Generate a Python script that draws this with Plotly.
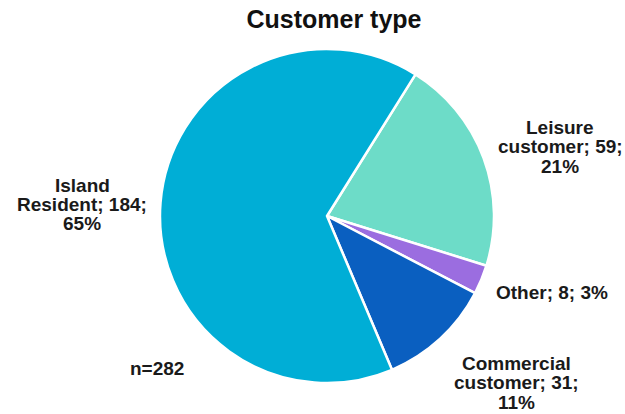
import plotly.graph_objects as go

categories = ["Leisure customer", "Other", "Commercial customer", "Island Resident"]
values = [59, 8, 31, 184]
label_lines = [["Leisure", "customer; {v};", "{p}%"], ["Other; {v}; {p}%"],
               ["Commercial", "customer; {v};", "{p}%"], ["Island", "Resident; {v};", "{p}%"]]
colors = ["#6DDCC8", "#9B6DE0", "#0A5FC0", "#00AED6"]
label_pos = [(560, 127), (552, 292), (516, 363), (82, 185)]  # pixel centers of first line

W, H = 625, 414
LINE = 19.5
total = sum(values)

fig = go.Figure(go.Pie(
    labels=categories, values=values, sort=False, direction="clockwise",
    rotation=32, textinfo="none", hoverinfo="label+value+percent",
    marker=dict(colors=colors, line=dict(color="white", width=2.5)),
    domain=dict(x=[160/W, 494/W], y=[(H-384)/H, (H-48)/H]),
    showlegend=False,
))

font = dict(family="Liberation Sans", size=19, color="#1a1a1a")
annotations = []
for c, v, lines, (px, py) in zip(categories, values, label_lines, label_pos):
    p = round(100 * v / total)
    for i, ln in enumerate(lines):
        annotations.append(dict(
            text="<b>" + ln.format(v=v, p=p) + "</b>", x=px/W, y=1 - (py + i*LINE)/H,
            xref="paper", yref="paper", showarrow=False,
            xanchor="center", yanchor="middle", font=font,
        ))
annotations.append(dict(
    text=f"<b>n={total}</b>", x=157/W, y=1 - 368/H, xref="paper", yref="paper",
    showarrow=False, xanchor="center", yanchor="middle", font=font,
))

fig.update_layout(
    width=W, height=H, margin=dict(l=0, r=0, t=0, b=0),
    paper_bgcolor="white", plot_bgcolor="white",
    title=dict(text="<b>Customer type</b>", x=334/W, xanchor="center", y=1 - 19/H, yanchor="middle",
               font=dict(family="Liberation Sans", size=25, color="#111111")),
    annotations=annotations,
)

fig.write_html("out.html")
